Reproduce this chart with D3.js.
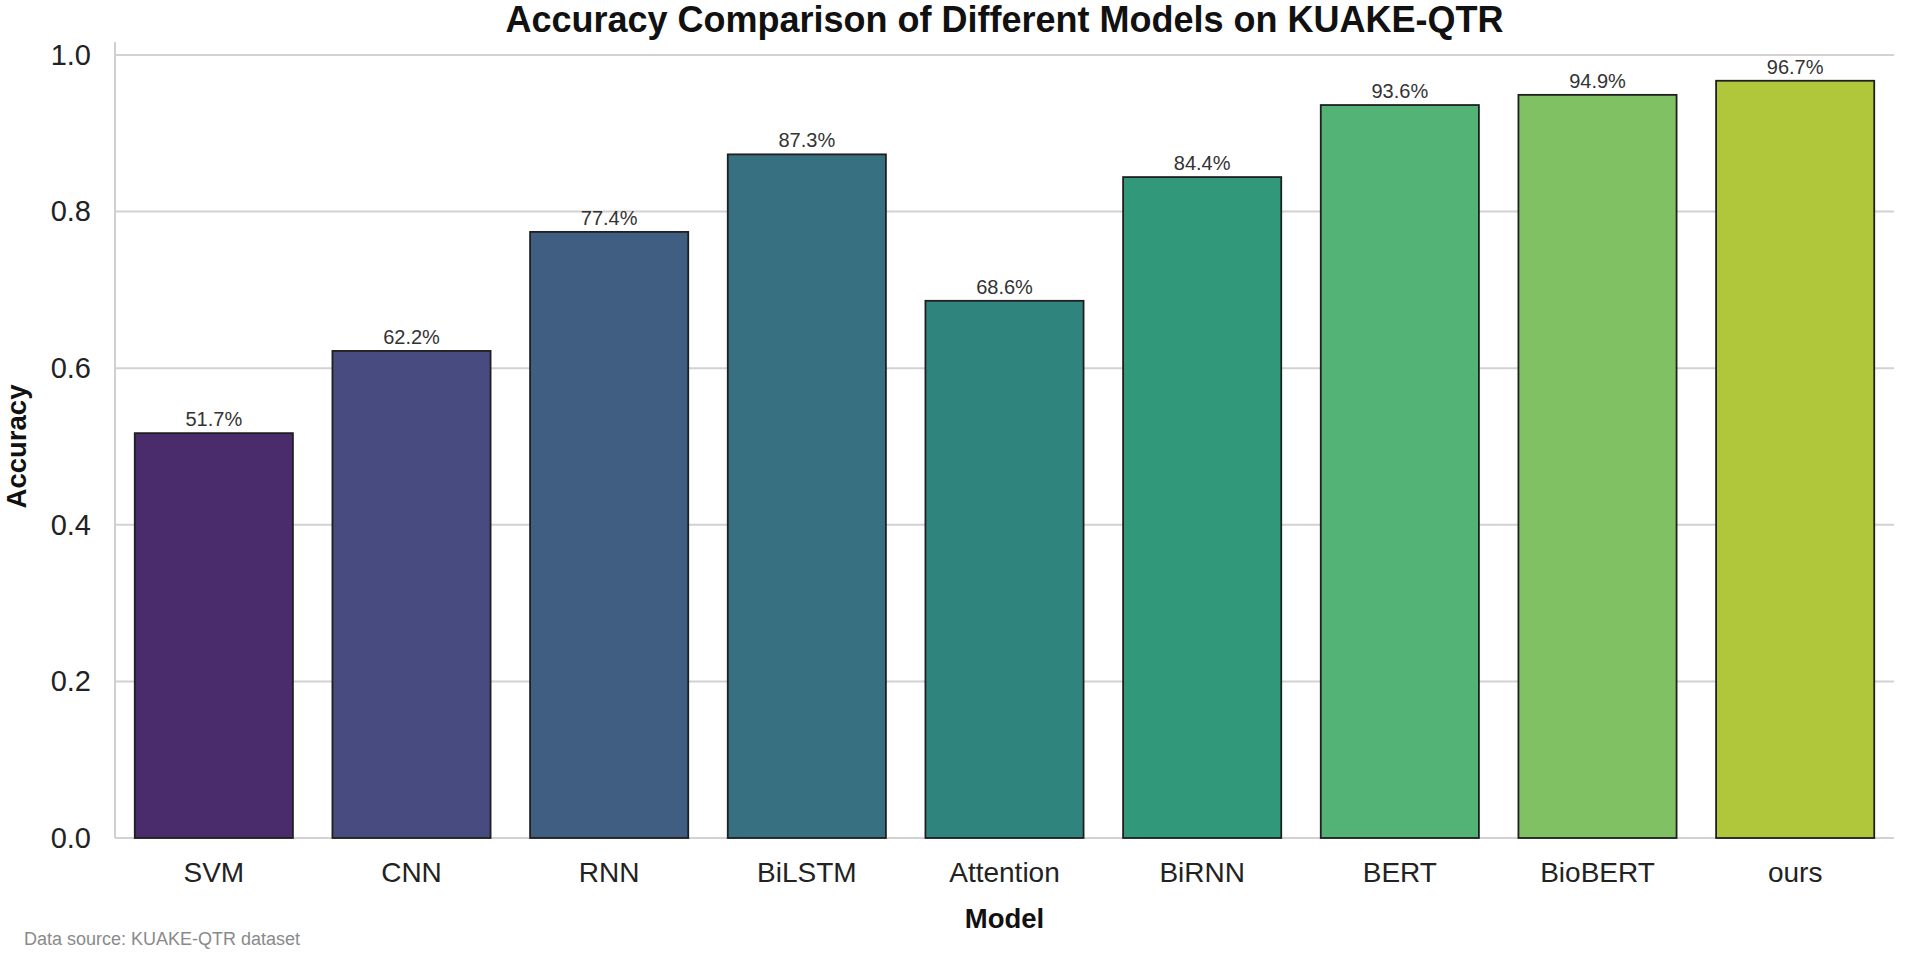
<!DOCTYPE html>
<html>
<head>
<meta charset="utf-8">
<script src="https://cdn.jsdelivr.net/npm/d3@7/dist/d3.min.js"></script>
<style>
  body { margin: 0; background: #fff; }
  text { font-family: "Liberation Sans", Arial, sans-serif; }
</style>
</head>
<body>
<script>
// data
const models = ['SVM', 'CNN', 'RNN', 'BiLSTM', 'Attention', 'BiRNN', 'BERT', 'BioBERT', 'ours']
const accuracy = [0.517, 0.622, 0.774, 0.873, 0.686, 0.844, 0.936, 0.949, 0.967]
const barColors = ['#4a2b6c', '#474b7f', '#405e82', '#377181', '#2f857e', '#32987a', '#53b276', '#80c163', '#b0c73b']
const yTicks = [0.0, 0.2, 0.4, 0.6, 0.8, 1.0]

const size = {
    width: 1905,
    height: 962,
    margin: { left: 115, right: 11, top: 42, bottom: 124 }
}

const svg = d3.select('body')
    .append('svg')
    .attr('width', size.width)
    .attr('height', size.height)

const xScale = d3.scaleBand()
    .domain(models)
    .range([size.margin.left, size.width - size.margin.right])
    .paddingInner(0.2)
    .paddingOuter(0.1)

const yScale = d3.scaleLinear()
    .domain([0, 1.0165])
    .range([size.height - size.margin.bottom, size.margin.top])

// gridlines behind the bars
svg.append('g')
    .selectAll('line')
    .data(yTicks)
    .enter()
    .append('line')
    .attr('x1', size.margin.left)
    .attr('x2', size.width - size.margin.right)
    .attr('y1', d => yScale(d))
    .attr('y2', d => yScale(d))
    .attr('stroke', '#d2d2d2')
    .attr('stroke-width', 2)

// left spine
svg.append('line')
    .attr('x1', size.margin.left).attr('x2', size.margin.left)
    .attr('y1', yScale.range()[1]).attr('y2', yScale(0))
    .attr('stroke', '#cfcfcf')
    .attr('stroke-width', 2)

// y axis labels
const yAxis = d3.axisLeft(yScale).tickValues(yTicks).tickFormat(d3.format('.1f')).tickSize(0).tickPadding(24)
const gy = svg.append('g')
    .attr('transform', `translate(${size.margin.left},0)`)
    .call(yAxis)
gy.select('.domain').remove()
gy.selectAll('text').attr('font-size', 29).attr('fill', '#222')

// bars
svg.append('g')
    .selectAll('rect')
    .data(models)
    .enter()
    .append('rect')
    .attr('x', d => xScale(d))
    .attr('width', xScale.bandwidth())
    .attr('y', (d, i) => yScale(accuracy[i]))
    .attr('height', (d, i) => yScale(0) - yScale(accuracy[i]))
    .attr('fill', (d, i) => barColors[i])
    .attr('stroke', '#1f1f1f')
    .attr('stroke-width', 1.8)

// value labels
svg.append('g')
    .selectAll('text')
    .data(models)
    .enter()
    .append('text')
    .attr('x', d => xScale(d) + xScale.bandwidth() / 2)
    .attr('y', (d, i) => yScale(accuracy[i]) - 7)
    .attr('text-anchor', 'middle')
    .attr('font-size', 20)
    .attr('fill', '#333')
    .text((d, i) => (accuracy[i] * 100).toFixed(1) + '%')

// x axis labels
const xAxis = d3.axisBottom(xScale).tickSize(0).tickPadding(24)
const gx = svg.append('g')
    .attr('transform', `translate(0,${yScale(0)})`)
    .call(xAxis)
gx.select('.domain').remove()
gx.selectAll('text').attr('font-size', 28).attr('fill', '#222')

// titles
svg.append('text')
    .attr('x', (size.margin.left + size.width - size.margin.right) / 2)
    .attr('y', 32)
    .attr('text-anchor', 'middle')
    .attr('font-size', 36)
    .attr('font-weight', 'bold')
    .attr('fill', '#111')
    .text('Accuracy Comparison of Different Models on KUAKE-QTR')

svg.append('text')
    .attr('x', (size.margin.left + size.width - size.margin.right) / 2)
    .attr('y', 928)
    .attr('text-anchor', 'middle')
    .attr('font-size', 27.5)
    .attr('font-weight', 'bold')
    .attr('fill', '#111')
    .text('Model')

svg.append('text')
    .attr('transform', `translate(26,${(yScale(0) + yScale(1)) / 2}) rotate(-90)`)
    .attr('text-anchor', 'middle')
    .attr('font-size', 27.5)
    .attr('font-weight', 'bold')
    .attr('fill', '#111')
    .text('Accuracy')

svg.append('text')
    .attr('x', 24)
    .attr('y', 945)
    .attr('font-size', 18)
    .attr('fill', '#8a8a8a')
    .text('Data source: KUAKE-QTR dataset')
</script>
</body>
</html>
